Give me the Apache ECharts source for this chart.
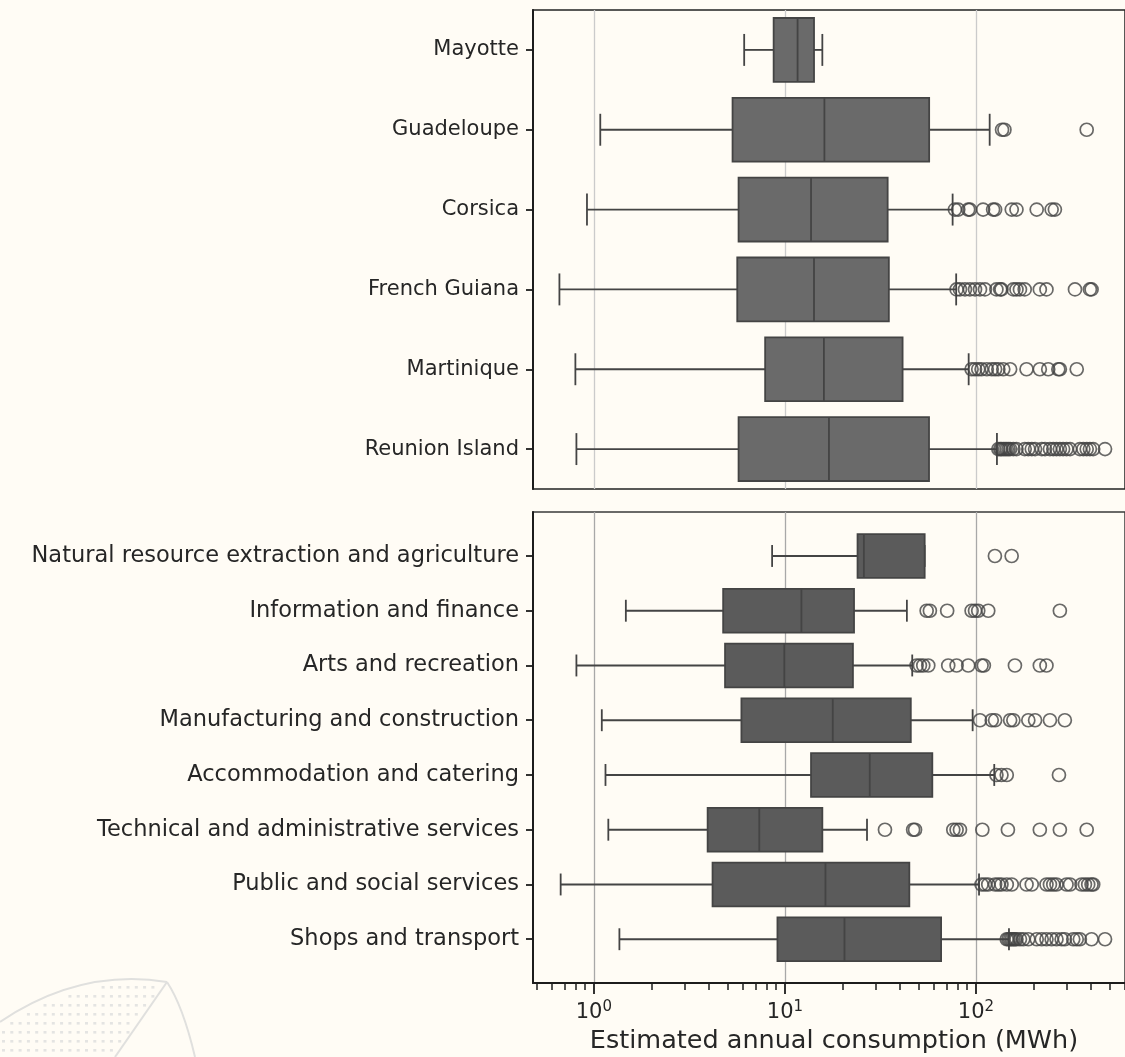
<!DOCTYPE html>
<html>
<head>
<meta charset="utf-8">
<script src="https://cdn.jsdelivr.net/npm/echarts@6/dist/echarts.min.js"></script>
<style>
html,body{margin:0;padding:0;background:#fffcf5;}
#chart{width:1125px;height:1057px;}
</style>
</head>
<body>
<div id="chart"></div>
<script>
// Territories, top to bottom: whisker ends, quartiles, median (MWh)
const regionNames  = ['Mayotte', 'Guadeloupe', 'Corsica', 'French Guiana', 'Martinique', 'Reunion Island'];
const regionLow    = [6.12, 1.08, 0.92, 0.66, 0.80, 0.81];
const regionQ1     = [8.73, 5.32, 5.72, 5.63, 7.88, 5.72];
const regionMedian = [11.65, 16.1, 13.7, 14.2, 16.0, 17.0];
const regionQ3     = [14.2, 56.9, 34.5, 35.0, 41.3, 56.8];
const regionHigh   = [15.7, 118, 75.5, 78.8, 91.6, 128.8];
const regionOutliers = [
  [],
  [137, 141, 380],
  [77.6, 80.8, 91.1, 93.0, 109, 123, 126, 154, 163, 208, 249, 259],
  [79.2, 82.5, 87.6, 93.0, 98.9, 105, 111.5, 128, 134, 136, 157, 163, 170, 180, 216, 234, 330, 395, 403],
  [94.9, 98.9, 102.8, 107, 114, 121, 126, 131, 139, 151, 184, 216, 239, 270, 275, 337],
  [131, 134, 136, 139, 142, 145, 148, 151, 157, 163, 180, 188, 196, 204, 221, 230, 244, 254, 264, 275, 286, 298, 311, 350, 365, 380, 395, 411, 474]
];

// Activity sectors, top to bottom
const sectorNames  = ['Natural resource extraction and agriculture', 'Information and finance', 'Arts and recreation',
                      'Manufacturing and construction', 'Accommodation and catering', 'Technical and administrative services',
                      'Public and social services', 'Shops and transport'];
const sectorLow    = [8.57, 1.47, 0.81, 1.10, 1.15, 1.19, 0.67, 1.36];
const sectorQ1     = [24.0, 4.75, 4.86, 5.92, 13.7, 3.94, 4.18, 9.14];
const sectorMedian = [25.9, 12.2, 9.93, 17.8, 27.8, 7.34, 16.3, 20.5];
const sectorQ3     = [53.9, 23.0, 22.7, 45.6, 59.1, 15.7, 44.8, 65.7];
const sectorHigh   = [53.9, 43.5, 46.4, 96.1, 124.7, 26.9, 103.8, 148.9];
const sectorOutliers = [
  [125.7, 153.8],
  [55.2, 57.4, 70.7, 94.9, 98.9, 102.8, 116, 275],
  [48.9, 50.9, 53.0, 56.3, 71.6, 79.2, 91.1, 107, 110, 160, 216, 234],
  [105, 121, 126, 151, 157, 188, 204, 244, 292],
  [128, 136, 145, 272],
  [33.4, 46.9, 48.0, 76.1, 79.2, 82.5, 108, 147, 216, 275, 380],
  [107, 111.5, 116, 126, 131, 136, 145, 154, 184, 196, 234, 244, 254, 264, 298, 311, 357, 372, 387, 403, 411],
  [145, 148, 151, 154, 157, 160, 163, 170, 177, 188, 208, 221, 234, 249, 264, 281, 292, 323, 337, 350, 403, 474]
];

// Log axis ticks
const majorTicks = [1, 10, 100];
const minorTicks = [0.5, 0.6, 0.7, 0.8, 0.9, 2, 3, 4, 5, 6, 7, 8, 9,
                    20, 30, 40, 50, 60, 70, 80, 90, 200, 300, 400, 500, 600];
const xTitle = 'Estimated annual consumption (MWh)';

// Visible x range (the plot runs to the right edge of the page)
const X_MIN = 0.48, X_MAX = 603;
const FONT = 'DejaVu Sans';
const INK = '#262626';
const LINE = '#444444';
const SPINE = '#1c1c1c';

function boxRows(low, q1, med, q3, high) {
  return low.map((v, i) => [i, v, q1[i], med[i], q3[i], high[i]]);
}
function outlierPoints(lists) {
  const pts = [];
  lists.forEach((arr, i) => arr.forEach(v => pts.push([v, i])));
  return pts;
}

// Box, median, whiskers and half-width caps, placed through the axes
function boxRenderer(fill) {
  return function (params, api) {
    const idx = api.value(0);
    const band = Math.abs(api.coord([1, 1])[1] - api.coord([1, 0])[1]);
    const h = band * 0.8;
    const cy = api.coord([1, idx])[1];
    const px = v => api.coord([v, idx])[0];
    const xl = px(api.value(1)), xq1 = px(api.value(2)), xm = px(api.value(3)),
          xq3 = px(api.value(4)), xh = px(api.value(5));
    const ls = { stroke: LINE, lineWidth: 1.8 };
    return {
      type: 'group',
      children: [
        { type: 'line', shape: { x1: xl, y1: cy, x2: xq1, y2: cy }, style: ls },
        { type: 'line', shape: { x1: xq3, y1: cy, x2: xh, y2: cy }, style: ls },
        { type: 'line', shape: { x1: xl, y1: cy - h / 4, x2: xl, y2: cy + h / 4 }, style: ls },
        { type: 'line', shape: { x1: xh, y1: cy - h / 4, x2: xh, y2: cy + h / 4 }, style: ls },
        { type: 'rect', shape: { x: xq1, y: cy - h / 2, width: xq3 - xq1, height: h },
          style: { fill: fill, stroke: LINE, lineWidth: 1.8 } },
        { type: 'line', shape: { x1: xm, y1: cy - h / 2, x2: xm, y2: cy + h / 2 }, style: ls }
      ]
    };
  };
}

const catTick = { show: true, alignWithLabel: true, length: 7, lineStyle: { color: SPINE, width: 1.8 } };
const hidden = { show: false };

function logAxis(gridIndex, extra) {
  return Object.assign({
    type: 'log', logBase: 10, gridIndex: gridIndex, min: X_MIN, max: X_MAX,
    axisLine: hidden, axisTick: { show: false, customValues: majorTicks },
    axisLabel: { show: false, customValues: majorTicks }, splitLine: hidden
  }, extra || {});
}

// Dotted leaf mark in the lower left corner
function leafMark() {
  const stroke = { fill: 'none', stroke: '#e0e0de', lineWidth: 2 };
  const els = [
    { type: 'bezierCurve', silent: true, shape: { x1: 0, y1: 1022, cpx1: 80, cpy1: 968, x2: 167, y2: 982 }, style: stroke },
    { type: 'line', silent: true, shape: { x1: 167, y1: 982, x2: 115, y2: 1057 }, style: stroke },
    { type: 'bezierCurve', silent: true, shape: { x1: 167, y1: 982, cpx1: 183, cpy1: 1006, x2: 195, y2: 1057 }, style: stroke }
  ];
  const arcY = x => {
    let t = 0.5;
    for (let k = 0; k < 30; k++) { const fx = 160 * t + 7 * t * t - x; t -= fx / (160 + 14 * t); }
    return (1 - t) * (1 - t) * 1022 + 2 * (1 - t) * t * 968 + t * t * 982;
  };
  for (let y = 986; y < 1057; y += 9) {
    for (let x = 2; x < 170; x += 8.3) {
      const lineX = 167 - (y - 982) * 52 / 75;
      if (y > arcY(x) + 4 && x < lineX - 5) {
        els.push({ type: 'rect', silent: true, shape: { x: x, y: y, width: 3, height: 2.6 }, style: { fill: '#e4e4e2' } });
      }
    }
  }
  return els;
}

const chart = echarts.init(document.getElementById('chart'), null, { renderer: 'canvas' });
chart.setOption({
  animation: false,
  backgroundColor: '#fffcf5',
  graphic: leafMark(),
  grid: [
    { left: 533, top: 10, width: 592, height: 479, show: true, borderColor: '#222', borderWidth: 1.5, backgroundColor: 'transparent' },
    { left: 533, top: 528.6, width: 592, height: 438 },
    { left: 533, top: 512, width: 592, height: 471, show: true, borderColor: '#3a3a3a', borderWidth: 1.5, backgroundColor: 'transparent' }
  ],
  xAxis: [
    logAxis(0, { splitLine: { show: true, lineStyle: { color: '#cbcbcb', width: 1.3 } } }),
    logAxis(1),
    logAxis(2, {
      position: 'bottom',
      axisLine: { show: true, onZero: false, lineStyle: { color: SPINE, width: 2 } },
      axisTick: { show: true, customValues: majorTicks, length: 11, lineStyle: { color: SPINE, width: 1.8 } },
      axisLabel: {
        show: true, customValues: majorTicks, margin: 17,
        formatter: v => '{b|10}{s|' + Math.round(Math.log10(v)) + '}',
        rich: {
          b: { fontFamily: FONT, fontSize: 21, color: INK, lineHeight: 26 },
          s: { fontFamily: FONT, fontSize: 15, color: INK, verticalAlign: 'top', lineHeight: 18 }
        }
      },
      splitLine: { show: true, lineStyle: { color: '#a8a8a8', width: 1.3 } },
      name: xTitle, nameLocation: 'middle', nameGap: 45,
      nameTextStyle: { fontFamily: FONT, fontSize: 25.5, color: INK, padding: [0, 0, 0, 10] }
    }),
    logAxis(2, {
      position: 'bottom', offset: 0,
      axisTick: { show: true, customValues: minorTicks, length: 7, lineStyle: { color: SPINE, width: 1.5 } }
    })
  ],
  yAxis: [
    { type: 'category', gridIndex: 0, inverse: true, data: regionNames,
      axisLine: { show: true, lineStyle: { color: SPINE, width: 2 } },
      axisTick: catTick, axisLabel: { fontFamily: FONT, fontSize: 21, color: INK, margin: 14 }, splitLine: hidden },
    { type: 'category', gridIndex: 1, inverse: true, data: sectorNames,
      axisLine: hidden, axisTick: catTick, axisLabel: { fontFamily: FONT, fontSize: 22.5, color: INK, margin: 14 }, splitLine: hidden },
    { type: 'value', gridIndex: 2, min: 0, max: 1,
      axisLine: { show: true, lineStyle: { color: SPINE, width: 2 } },
      axisTick: hidden, axisLabel: hidden, splitLine: hidden }
  ],
  series: [
    { type: 'custom', xAxisIndex: 0, yAxisIndex: 0,
      renderItem: boxRenderer('#6a6a6a'),
      encode: { x: [1, 2, 3, 4, 5], y: 0 },
      data: boxRows(regionLow, regionQ1, regionMedian, regionQ3, regionHigh) },
    { type: 'scatter', xAxisIndex: 0, yAxisIndex: 0, symbol: 'circle', symbolSize: 13,
      itemStyle: { color: 'rgba(0,0,0,0)', borderColor: LINE, borderWidth: 1.7 },
      data: outlierPoints(regionOutliers) },
    { type: 'custom', xAxisIndex: 1, yAxisIndex: 1,
      renderItem: boxRenderer('#5b5b5b'),
      encode: { x: [1, 2, 3, 4, 5], y: 0 },
      data: boxRows(sectorLow, sectorQ1, sectorMedian, sectorQ3, sectorHigh) },
    { type: 'scatter', xAxisIndex: 1, yAxisIndex: 1, symbol: 'circle', symbolSize: 13,
      itemStyle: { color: 'rgba(0,0,0,0)', borderColor: LINE, borderWidth: 1.7 },
      data: outlierPoints(sectorOutliers) }
  ]
});
</script>
</body>
</html>
